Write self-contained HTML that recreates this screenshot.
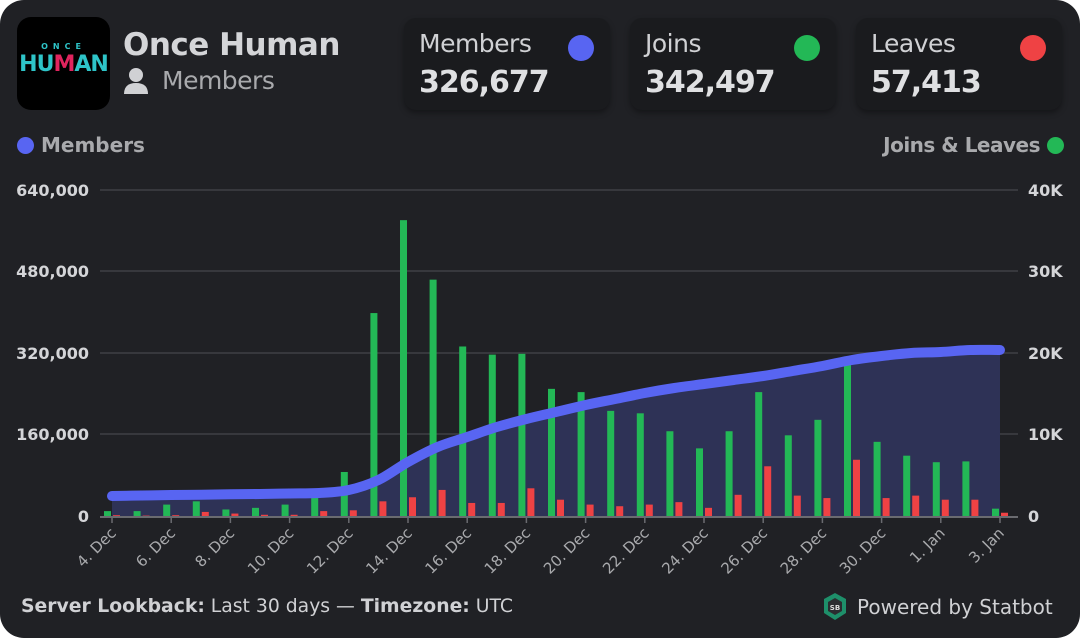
<!DOCTYPE html>
<html><head><meta charset="utf-8"><style>
html,body{margin:0;padding:0;background:#fff;}
#c{position:relative;width:1080px;height:638px;background:#202125;border-radius:24px;overflow:hidden;font-family:"DejaVu Sans","Liberation Sans",sans-serif;color:#d4d5d8;}
.card{position:absolute;top:18px;width:206px;height:92px;background:#1a1b1e;border-radius:12px;box-shadow:0 3px 6px rgba(0,0,0,.35);}
.card .l{position:absolute;left:15px;top:11px;font-size:25px;color:#d0d1d4;letter-spacing:-0.5px;}
.card .v{position:absolute;left:15px;top:47px;font-size:30px;font-weight:bold;color:#dfe0e2;letter-spacing:-1px;}
.card .d{position:absolute;right:16px;top:17px;width:26px;height:26px;border-radius:50%;}
</style></head><body>
<div id="c">
  <div style="position:absolute;left:17px;top:17px;width:93px;height:93px;background:#000;border-radius:14px;">
    <div style="position:absolute;left:0;width:93px;top:25px;text-align:center;font:bold 8px 'DejaVu Sans',sans-serif;letter-spacing:5px;color:#2ec4c8;">ONCE</div>
    <div style="position:absolute;left:0;width:93px;top:35px;text-align:center;font:bold 22px 'DejaVu Sans',sans-serif;letter-spacing:-1px;color:#2ec4c8;">HU<span style="color:#e0245e">M</span>AN</div>
  </div>
  <div style="position:absolute;left:123px;top:27px;font-size:31px;font-weight:bold;color:#d4d5d8;letter-spacing:-0.5px;">Once Human</div>
  <svg style="position:absolute;left:123px;top:67px" width="26" height="28"><circle cx="13" cy="8" r="7" fill="#d0d1d4"/><path d="M1 27 Q1 16 13 16 Q25 16 25 27 Z" fill="#d0d1d4"/></svg>
  <div style="position:absolute;left:162px;top:66px;font-size:25px;color:#a9aaad;letter-spacing:-0.5px;">Members</div>

  <div class="card" style="left:404px"><div class="l">Members</div><div class="v">326,677</div><div class="d" style="background:#5865f2"></div></div>
  <div class="card" style="left:630px"><div class="l">Joins</div><div class="v">342,497</div><div class="d" style="background:#23b856"></div></div>
  <div class="card" style="left:856px"><div class="l">Leaves</div><div class="v">57,413</div><div class="d" style="background:#ef4244"></div></div>

  <div style="position:absolute;left:17px;top:137px;width:17px;height:17px;border-radius:50%;background:#5865f2"></div>
  <div style="position:absolute;left:41px;top:133px;font-size:20px;font-weight:bold;color:#a9aaad;">Members</div>
  <div style="position:absolute;right:40px;top:133px;font-size:20px;font-weight:bold;color:#a9aaad;letter-spacing:-0.5px;">Joins &amp; Leaves</div>
  <div style="position:absolute;left:1047px;top:137px;width:17px;height:17px;border-radius:50%;background:#23b856"></div>

  <svg id="ch" style="position:absolute;left:0;top:0" width="1080" height="638">
    <g stroke="#37383d" stroke-width="2">
      <line x1="100" y1="190" x2="1018" y2="190"/><line x1="100" y1="271" x2="1018" y2="271"/>
      <line x1="100" y1="353" x2="1018" y2="353"/><line x1="100" y1="434" x2="1018" y2="434"/>
    </g>
    <g font-family="DejaVu Sans, sans-serif" font-size="16" font-weight="bold" fill="#d4d5d8">
      <text x="89" y="196" text-anchor="end">640,000</text>
      <text x="89" y="277" text-anchor="end">480,000</text>
      <text x="89" y="359" text-anchor="end">320,000</text>
      <text x="89" y="440" text-anchor="end">160,000</text>
      <text x="89" y="522" text-anchor="end">0</text>
      <text x="1028" y="196">40K</text><text x="1028" y="277">30K</text>
      <text x="1028" y="359">20K</text><text x="1028" y="440">10K</text>
      <text x="1028" y="522">0</text>
    </g>
    <g id="bars"></g>
    <line x1="100" y1="517" x2="1018" y2="517" stroke="#6a6b70" stroke-width="2"/>
    <g id="ticks" font-family="DejaVu Sans, sans-serif" font-size="15" fill="#a9aaad"></g>
  </svg>

  <div style="position:absolute;left:21px;top:596px;font-size:18.8px;color:#d0d1d4;">
<b>Server Lookback:</b> Last 30 days — <b>Timezone:</b> UTC</div>
  <svg style="position:absolute;left:822px;top:592px" width="26" height="30"><polygon points="13,1 24,7 24,21 13,28 2,21 2,7" fill="#1e8f6a"/><polygon points="13,6 20,10 20,19 13,23 6,19 6,10" fill="#2b2c30"/><text x="13" y="18" font-size="7" font-weight="bold" fill="#ddd" text-anchor="middle" font-family="DejaVu Sans">SB</text></svg>
  <div style="position:absolute;left:857px;top:595px;font-size:20px;color:#d0d1d4;">Powered by Statbot</div>
</div>
<script>
var J=[0.6,0.6,1.4,1.8,0.8,1,1.4,2.5,5.4,24.9,36.3,29,20.8,19.8,19.9,15.6,15.2,12.9,12.6,10.4,8.3,10.4,15.2,9.9,11.8,18.9,9.1,7.4,6.6,6.7,0.9];
var L=[0.1,0.05,0.1,0.5,0.3,0.15,0.15,0.6,0.7,1.8,2.3,3.2,1.6,1.6,3.4,2,1.4,1.2,1.4,1.7,1,2.6,6.1,2.5,2.2,6.9,2.2,2.5,2,2,0.4];
var M=[496,495.5,495,494.7,494.3,494,493.5,493,490,480,462,447,437,427,419,412,405,399,393,388,384,380,376,371,366,360,356,353,352,350,350];
var ns="http://www.w3.org/2000/svg",g=document.getElementById('bars');
function X(i){return 112+29.6*i;}
function el(t,a){var e=document.createElementNS(ns,t);for(var k in a)e.setAttribute(k,a[k]);return e;}
function Y(i){return M[Math.max(0,Math.min(30,i))];}
var d="M"+X(0)+" "+M[0];
for(var i=1;i<31;i++){var x0=X(i-1),x1=X(i),s=29.6/3;
 var m0=(Y(i)-Y(i-2))/2,m1=(Y(i+1)-Y(i-1))/2;
 d+=" C"+(x0+s)+" "+(M[i-1]+m0/3)+" "+(x1-s)+" "+(M[i]-m1/3)+" "+x1+" "+M[i];}
g.appendChild(el('path',{d:d+" L"+X(30)+" 516 L"+X(0)+" 516 Z",fill:"#2e3256"}));
for(var i=0;i<31;i++){var x=X(i);
 var h=J[i]*8.15;g.appendChild(el('rect',{x:x-8,y:516-h,width:7,height:h,fill:"#23b856"}));
 h=L[i]*8.15;g.appendChild(el('rect',{x:x+1,y:516-h,width:7,height:h,fill:"#ef4244"}));}
g.appendChild(el('path',{d:d,fill:"none",stroke:"#5865f2","stroke-width":10,"stroke-linecap":"round"}));
var labs=["4. Dec","6. Dec","8. Dec","10. Dec","12. Dec","14. Dec","16. Dec","18. Dec","20. Dec","22. Dec","24. Dec","26. Dec","28. Dec","30. Dec","1. Jan","3. Jan"];
var t=document.getElementById('ticks');
for(var k=0;k<16;k++){var x=X(2*k);
 t.appendChild(el('line',{x1:x,y1:517,x2:x,y2:523,stroke:"#6a6b70","stroke-width":1.5}));
 var tx=el('text',{x:x+5,y:534,"text-anchor":"end",transform:"rotate(-45 "+(x+5)+" 534)"});tx.textContent=labs[k];t.appendChild(tx);}
</script>
</body></html>
